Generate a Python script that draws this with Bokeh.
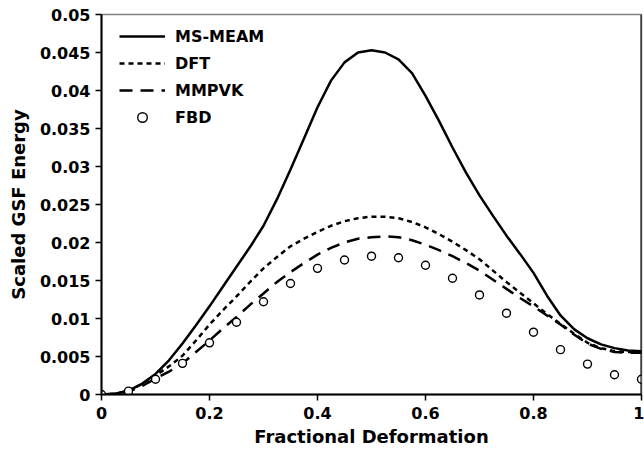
from bokeh.plotting import figure
from bokeh.models import (Range1d, FixedTicker, CustomJSTickFormatter, Legend,
                          LegendItem, Span, ColumnDataSource)
from bokeh.embed import file_html
from bokeh.resources import INLINE

# ---- data ----
# curves, read every 0.025
curve_x = [0.0, 0.025, 0.05, 0.075, 0.1, 0.125, 0.15, 0.175, 0.2, 0.225, 0.25,
           0.275, 0.3, 0.325, 0.35, 0.375, 0.4, 0.425, 0.45, 0.475, 0.5,
           0.525, 0.55, 0.575, 0.6, 0.625, 0.65, 0.675, 0.7, 0.725, 0.75,
           0.775, 0.8, 0.825, 0.85, 0.875, 0.9, 0.925, 0.95, 0.975, 1.0]
ms_meam = [0.0, 0.0001, 0.0005, 0.0014, 0.0027, 0.0045, 0.0067, 0.0091, 0.0116, 0.0142, 0.0168,
           0.0194, 0.0222, 0.0257, 0.0296, 0.0337, 0.0378, 0.0413, 0.0437, 0.0450, 0.0453,
           0.0450, 0.0441, 0.0423, 0.0393, 0.0360, 0.0325, 0.0292, 0.0262, 0.0235, 0.0209,
           0.0185, 0.0160, 0.0130, 0.0104, 0.0086, 0.0074, 0.0066, 0.0061, 0.0058, 0.0057]
dft = [0.0, 0.0001, 0.0005, 0.0014, 0.0025, 0.0037, 0.0051, 0.0071, 0.0092, 0.0111, 0.0129,
       0.0148, 0.0166, 0.0181, 0.0195, 0.0205, 0.0214, 0.0222, 0.0228, 0.0232, 0.0234,
       0.0234, 0.0232, 0.0227, 0.0220, 0.0211, 0.0201, 0.0190, 0.0178, 0.0163, 0.0148,
       0.0134, 0.0120, 0.0106, 0.0093, 0.0080, 0.0068, 0.0061, 0.0057, 0.0056, 0.0056]
mmpvk = [0.0, 0.0001, 0.0004, 0.0011, 0.0021, 0.0030, 0.0041, 0.0056, 0.0071, 0.0087, 0.0102,
         0.0118, 0.0133, 0.0148, 0.0161, 0.0173, 0.0184, 0.0193, 0.0200, 0.0205, 0.0207,
         0.0208, 0.0207, 0.0203, 0.0197, 0.0190, 0.0182, 0.0173, 0.0163, 0.0151, 0.0139,
         0.0127, 0.0116, 0.0104, 0.0092, 0.0079, 0.0067, 0.0060, 0.0056, 0.0055, 0.0055]
# FBD points every 0.05
fbd_x = [0.0, 0.05, 0.1, 0.15, 0.2, 0.25, 0.3, 0.35, 0.4, 0.45, 0.5,
         0.55, 0.6, 0.65, 0.7, 0.75, 0.8, 0.85, 0.9, 0.95, 1.0]
fbd = [0.0, 0.00044, 0.0020, 0.0041, 0.0068, 0.0095, 0.0122, 0.0146, 0.0166, 0.0177, 0.0182,
       0.0180, 0.0170, 0.0153, 0.0131, 0.0107, 0.0082, 0.0059, 0.0040, 0.0026, 0.0020]

x_ticks = [0, 0.2, 0.4, 0.6, 0.8, 1.0]
y_ticks = [0, 0.005, 0.01, 0.015, 0.02, 0.025, 0.03, 0.035, 0.04, 0.045, 0.05]
series_names = ["MS-MEAM", "DFT", "MMPVK", "FBD"]
x_title = "Fractional Deformation"
y_title = "Scaled GSF Energy"

FONT = "DejaVu Sans"

csrc = ColumnDataSource(dict(x=curve_x, ms=ms_meam, dft=dft, mm=mmpvk))
psrc = ColumnDataSource(dict(x=fbd_x, fbd=fbd))

p = figure(width=644, height=453, output_backend="svg", toolbar_location=None,
           x_range=Range1d(0, 1), y_range=Range1d(0, 0.05),
           min_border_left=101, min_border_right=3, min_border_top=14,
           min_border_bottom=59)
p.background_fill_color = "white"
p.border_fill_color = "white"
p.grid.visible = False
p.outline_line_color = "#808080"
p.outline_line_width = 1.5

r1 = p.line("x", "ms", source=csrc, line_color="black", line_width=2.5)
r2 = p.line("x", "dft", source=csrc, line_color="black", line_width=2.5, line_dash="5 4")
r3 = p.line("x", "mm", source=csrc, line_color="black", line_width=2.5, line_dash="13 8")
r4 = p.scatter("x", "fbd", source=psrc, marker="circle", size=8, fill_color="white",
               line_color="black", line_width=1.4)

p.add_layout(Span(location=1.0, dimension="height", line_color="black", line_width=2))

fmt = CustomJSTickFormatter(code="return String(parseFloat(tick.toFixed(4)));")
for ax, ticks in ((p.xaxis[0], x_ticks), (p.yaxis[0], y_ticks)):
    ax.ticker = FixedTicker(ticks=ticks)
    ax.formatter = fmt
    ax.minor_tick_line_color = None
    ax.major_tick_in = 0
    ax.major_tick_out = 6
    ax.major_tick_line_color = "black"
    ax.major_tick_line_width = 1.5
    ax.axis_line_color = "black"
    ax.axis_line_width = 2
    ax.major_label_text_font = FONT
    ax.major_label_text_font_style = "bold"
    ax.major_label_text_font_size = "16px"
    ax.major_label_text_color = "black"
    ax.axis_label_text_font = FONT
    ax.axis_label_text_font_style = "bold"
    ax.axis_label_text_font_size = "18px"
    ax.axis_label_text_color = "black"

p.xaxis[0].axis_label = x_title
p.yaxis[0].axis_label = y_title
p.xaxis[0].major_label_standoff = 6
p.xaxis[0].axis_label_standoff = 4
p.yaxis[0].major_label_standoff = 5
p.yaxis[0].axis_label_standoff = 8

legend = Legend(items=[LegendItem(label=series_names[0], renderers=[r1]),
                       LegendItem(label=series_names[1], renderers=[r2]),
                       LegendItem(label=series_names[2], renderers=[r3]),
                       LegendItem(label=series_names[3], renderers=[r4])],
                location=(18, 265), padding=0, margin=0, spacing=3,
                glyph_width=46, glyph_height=24, label_height=24, label_standoff=10,
                border_line_alpha=0, background_fill_alpha=0,
                label_text_font=FONT, label_text_font_style="bold",
                label_text_font_size="16px", label_text_color="black")
p.add_layout(legend, "center")

open("out.html", "w").write(file_html(p, INLINE))
